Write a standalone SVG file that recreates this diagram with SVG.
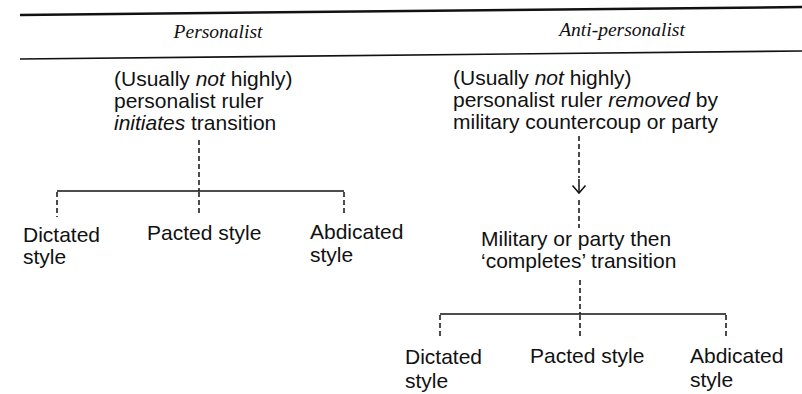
<svg xmlns="http://www.w3.org/2000/svg" width="802" height="394" viewBox="0 0 802 394">
<defs>
<style>
.hd{font-family:"Liberation Serif","Times New Roman",serif;font-style:italic;font-size:19.5px;fill:#111;text-anchor:middle}
.t{font-family:"Liberation Sans",Arial,sans-serif;font-size:21px;fill:#111}
.i{font-style:italic}
.rule{stroke:#111;fill:none}
.br{stroke:#111;stroke-width:1.5;fill:none}
.ds{stroke:#111;stroke-width:1.5;stroke-dasharray:5 3;fill:none}
</style>
</defs>
<rect width="802" height="394" fill="#fff"/>
<g id="header">
<line class="rule" x1="20" y1="15" x2="802" y2="7" stroke-width="2.5"/>
<line class="rule" x1="20" y1="59" x2="802" y2="51" stroke-width="1.6"/>
<text class="hd" x="218" y="38">Personalist</text>
<text class="hd" x="622" y="36">Anti-personalist</text>
</g>
<g id="connectors">
<line class="ds" x1="199" y1="140" x2="199" y2="191"/>
<path class="br" d="M57 191 H344"/>
<line class="ds" x1="57" y1="192" x2="57" y2="217"/>
<line class="ds" x1="199" y1="192" x2="199" y2="213"/>
<line class="ds" x1="344" y1="192" x2="344" y2="213"/>
<line class="ds" x1="579" y1="136" x2="579" y2="178"/>
<line class="br" x1="579" y1="179" x2="579" y2="193"/>
<path class="br" d="M572.5 185.5 L579 193 L585.5 185.5"/>
<line class="ds" x1="579" y1="200" x2="579" y2="228"/>
<line class="ds" x1="580" y1="280" x2="580" y2="314"/>
<path class="br" d="M440 314 H726"/>
<line class="ds" x1="440" y1="315" x2="440" y2="338"/>
<line class="ds" x1="580" y1="315" x2="580" y2="338"/>
<line class="ds" x1="726" y1="315" x2="726" y2="337"/>
</g>
<g id="node-personalist-ruler">
<text class="t" x="114" y="86">(Usually <tspan class="i">not</tspan> highly)</text>
<text class="t" x="114" y="108">personalist ruler</text>
<text class="t" x="114" y="130"><tspan class="i">initiates</tspan> transition</text>
</g>
<g id="node-left-dictated">
<text class="t" x="23" y="242">Dictated</text>
<text class="t" x="23" y="264">style</text>
</g>
<g id="node-left-pacted">
<text class="t" x="147" y="240">Pacted style</text>
</g>
<g id="node-left-abdicated">
<text class="t" x="310" y="239">Abdicated</text>
<text class="t" x="310" y="262">style</text>
</g>
<g id="node-anti-ruler">
<text class="t" x="453" y="85">(Usually <tspan class="i">not</tspan> highly)</text>
<text class="t" x="453" y="107">personalist ruler <tspan class="i">removed</tspan> by</text>
<text class="t" x="453" y="129">military countercoup or party</text>
</g>
<g id="node-military">
<text class="t" x="481" y="246">Military or party then</text>
<text class="t" x="481" y="268">‘completes’ transition</text>
</g>
<g id="node-right-dictated">
<text class="t" x="405" y="364">Dictated</text>
<text class="t" x="405" y="388">style</text>
</g>
<g id="node-right-pacted">
<text class="t" x="530" y="363">Pacted style</text>
</g>
<g id="node-right-abdicated">
<text class="t" x="690" y="363">Abdicated</text>
<text class="t" x="690" y="387">style</text>
</g>
</svg>
